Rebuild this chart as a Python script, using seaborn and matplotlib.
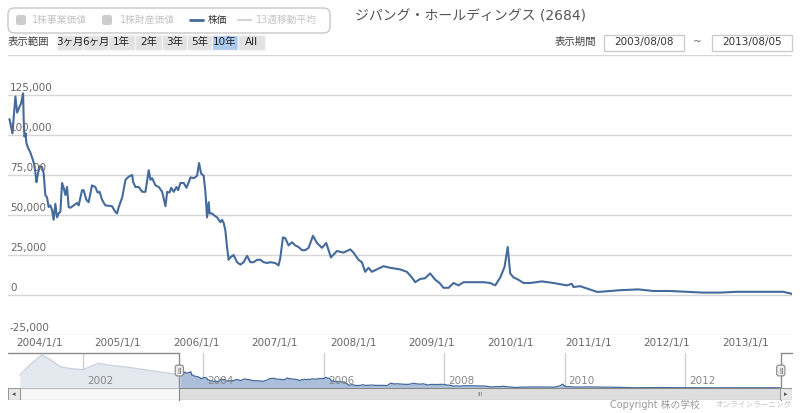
"""
ジパング・ホールディングス (2684) 株価チャート再現
"""
import numpy as np
import pandas as pd
import matplotlib
import matplotlib.pyplot as plt
import matplotlib.dates as mdates
from matplotlib.patches import Rectangle, FancyBboxPatch
from matplotlib.lines import Line2D
from matplotlib.ticker import FuncFormatter
import seaborn as sns

sns.set_theme(style='white')
plt.rcParams['font.family'] = ['DejaVu Sans', 'Noto Sans CJK JP']
plt.rcParams['axes.unicode_minus'] = False

# ── データ (年の小数表記 / 株価) ─────────────────────────────
price_years = [
    2003.618, 2003.656, 2003.694, 2003.716, 2003.767, 2003.792, 2003.800, 2003.809, 2003.825, 2003.834,
    2003.851, 2003.885, 2003.920, 2003.940, 2003.962, 2003.978, 2004.004, 2004.034, 2004.055, 2004.076,
    2004.098, 2004.118, 2004.140, 2004.162, 2004.182, 2004.204, 2004.225, 2004.246, 2004.268, 2004.289,
    2004.310, 2004.331, 2004.353, 2004.373, 2004.395, 2004.437, 2004.480, 2004.501, 2004.544, 2004.564,
    2004.599, 2004.628, 2004.671, 2004.713, 2004.743, 2004.768, 2004.799, 2004.841, 2004.926, 2004.968,
    2004.990, 2005.010, 2005.054, 2005.096, 2005.138, 2005.181, 2005.194, 2005.223, 2005.265, 2005.308,
    2005.350, 2005.392, 2005.414, 2005.436, 2005.478, 2005.520, 2005.563, 2005.605, 2005.627, 2005.656,
    2005.678, 2005.711, 2005.745, 2005.767, 2005.796, 2005.838, 2005.873, 2005.902, 2005.924, 2005.966,
    2006.009, 2006.034, 2006.060, 2006.093, 2006.115, 2006.136, 2006.157, 2006.169, 2006.200, 2006.220,
    2006.264, 2006.306, 2006.327, 2006.348, 2006.369, 2006.391, 2006.411, 2006.433, 2006.475, 2006.518,
    2006.561, 2006.603, 2006.646, 2006.688, 2006.730, 2006.773, 2006.815, 2006.857, 2006.901, 2006.943,
    2007.006, 2007.048, 2007.070, 2007.104, 2007.134, 2007.176, 2007.219, 2007.261, 2007.303, 2007.346,
    2007.389, 2007.431, 2007.487, 2007.538, 2007.601, 2007.656, 2007.716, 2007.792, 2007.876, 2007.962,
    2008.004, 2008.068, 2008.111, 2008.153, 2008.195, 2008.238, 2008.302, 2008.386, 2008.471, 2008.599,
    2008.684, 2008.748, 2008.790, 2008.854, 2008.917, 2008.981, 2009.045, 2009.099, 2009.150, 2009.214,
    2009.278, 2009.341, 2009.405, 2009.512, 2009.660, 2009.745, 2009.809, 2009.873, 2009.927, 2009.968,
    2010.000, 2010.042, 2010.106, 2010.170, 2010.255, 2010.404, 2010.552, 2010.722, 2010.786, 2010.806,
    2010.892, 2011.104, 2011.146, 2011.401, 2011.634, 2011.825, 2012.038, 2012.251, 2012.462, 2012.675,
    2012.888, 2013.099, 2013.312, 2013.482, 2013.592,
]
price_values = [
    110000, 101000, 124000, 114000, 120000, 126000, 109000, 99000, 101000, 95000,
    92500, 89000, 84000, 80000, 70500, 75000, 80500, 80000, 76000, 62500,
    61000, 55000, 56000, 53000, 47000, 57000, 48500, 51000, 52000, 70000,
    67000, 62500, 67500, 55000, 54500, 56000, 57500, 56000, 65500, 65500,
    59500, 58000, 68500, 67500, 64000, 64500, 59500, 56000, 55500, 52000,
    51000, 55000, 61000, 72000, 74000, 75000, 70500, 67500, 67500, 64500,
    64500, 78000, 72000, 73000, 68500, 67500, 64500, 55500, 64500, 64000,
    67000, 64500, 67500, 65500, 70000, 70000, 67000, 70500, 73500, 73000,
    74500, 82500, 76000, 74500, 64500, 48500, 58000, 51000, 51000, 50000,
    48500, 45500, 47000, 45000, 40500, 30000, 22000, 23500, 25000, 20500,
    19000, 20500, 24500, 20500, 20500, 22000, 22000, 20500, 20000, 20500,
    20000, 18500, 23000, 36000, 35500, 31000, 33000, 31000, 30000, 28000,
    28000, 29500, 37000, 32500, 29500, 32500, 23500, 27500, 26500, 28500,
    26500, 22000, 20500, 14500, 17000, 14500, 16000, 18000, 17000, 16000,
    14500, 11000, 8000, 10000, 10500, 13500, 9500, 7500, 4500, 4500,
    7500, 6000, 8000, 8000, 8000, 7500, 6000, 11000, 17500, 30000,
    13500, 11000, 9500, 7500, 7500, 8500, 7500, 6000, 7000, 5000,
    5500, 2000, 2000, 3000, 3500, 2500, 2500, 2000, 1500, 1500,
    2000, 2000, 2000, 2000, 700,
]

# ナビゲーター用 (表示期間より前の株価, 週足の概略)
nav_years = [2000.95, 2001.12, 2001.22, 2001.32, 2001.45, 2001.62, 2001.78,
             2002.00, 2002.25, 2002.45, 2002.78, 2003.11, 2003.36, 2003.56]
nav_values = [100000, 180000, 220000, 255000, 220000, 165000, 150000,
              142000, 190000, 175000, 158000, 135000, 118000, 106000]

y_ticks = [-25000, 0, 25000, 50000, 75000, 100000, 125000, 150000]
nav_tick_years = [2002, 2004, 2006, 2008, 2010, 2012]

range_start = '2003/08/08'
range_end = '2013/08/05'
nav_left, nav_right = 2000.754, 2013.778

legend_items = ['1株事業価値', '1株財産価値', '株価', '13週移動平均']
buttons = ['3ヶ月', '6ヶ月', '1年', '2年', '3年', '5年', '10年', 'All']
selected_button = '10年'
title = 'ジパング・ホールディングス (2684)'


def to_date(y):
    y0 = int(y)
    return pd.Timestamp(y0, 1, 1) + pd.Timedelta(days=(y - y0) * 365.25)


df = pd.DataFrame({'date': [to_date(y) for y in price_years], 'price': price_values})
df_early = pd.DataFrame({'date': [to_date(y) for y in nav_years], 'price': nav_values})
t0 = pd.Timestamp(range_start.replace('/', '-'))
t1 = pd.Timestamp(range_end.replace('/', '-'))
n0, n1 = mdates.date2num(t0), mdates.date2num(t1)
nl, nr = mdates.date2num(to_date(nav_left)), mdates.date2num(to_date(nav_right))

# ── レイアウト (ピクセル → 図座標) ─────────────────────────
W, H = 800, 413
def fx(x): return x / W
def fy(y): return 1 - y / H

fig = plt.figure(figsize=(8, 4.13), dpi=100)
fig.patch.set_facecolor('white')

line_color = '#456a9c'
grid_color = '#d6d6d6'

# ── メインチャート ─────────────────────────────────────────
ax = fig.add_axes([fx(8), fy(335), fx(784), 280 / H])
sns.lineplot(data=df, x='date', y='price', ax=ax, color=line_color,
             linewidth=1.5, legend=False)
ax.set_xlim(t0, t1)
ax.set_ylim(-25000, 150000)
ax.set_yticks(y_ticks)
ax.tick_params(axis='y', length=0, labelleft=False)
ax.grid(True, axis='y', color=grid_color, linewidth=1)
ax.grid(False, axis='x')
for s in ax.spines.values():
    s.set_visible(False)
ax.set_xlabel('')
ax.set_ylabel('')

ax.xaxis.set_major_locator(mdates.YearLocator())
ax.xaxis.set_major_formatter(FuncFormatter(lambda v, p: f'{mdates.num2date(v).year}/1/1'))
ax.tick_params(axis='x', length=0, pad=2, labelsize=7.5, labelcolor='#666666')

ytrans = ax.get_yaxis_transform()
for v in y_ticks[:-1]:
    ax.annotate(f'{v:,}', xy=(0, v), xycoords=ytrans, xytext=(2, 2),
                textcoords='offset pixels', fontsize=7.5, color='#666666',
                ha='left', va='bottom')

# ── ナビゲーター ───────────────────────────────────────────
nav = fig.add_axes([fx(8), fy(388), fx(784), 35 / H])
nav.set_xlim(nl, nr)
nav.set_ylim(0, 270000)
left_part = pd.concat([df_early, df.iloc[[0]]]).reset_index(drop=True)
nav.fill_between(left_part['date'], left_part['price'], color='#e4e9f0', linewidth=0)
sns.lineplot(data=left_part, x='date', y='price', ax=nav, color='#c9d3df',
             linewidth=1, legend=False)
nav.fill_between(df['date'], df['price'], color='#abbfda', linewidth=0)
sns.lineplot(data=df, x='date', y='price', ax=nav, color=line_color,
             linewidth=0.9, legend=False)
nav.set_xlim(nl, nr)
nav.set_xticks([])
nav.set_yticks([])
nav.set_xlabel('')
nav.set_ylabel('')
for s in nav.spines.values():
    s.set_visible(False)

nx = nav.get_xaxis_transform()
for yr in nav_tick_years:
    d = mdates.date2num(pd.Timestamp(yr, 1, 1))
    nav.axvline(d, color='#cfcfcf', linewidth=1, zorder=0)
    nav.annotate(str(yr), xy=(d, 0), xycoords=nx, xytext=(4, 2),
                 textcoords='offset pixels', fontsize=7.5, color='#888888',
                 ha='left', va='bottom')

# ── スクロールバー ─────────────────────────────────────────
sb = fig.add_axes([fx(8), fy(400), fx(784), 12 / H])
sb.set_xlim(nl, nr)
sb.set_ylim(0, 1)
sb.axis('off')
sx = sb.get_xaxis_transform()
sb.add_patch(Rectangle((0, 0), 1, 1, transform=sb.transAxes, fc='#f7f7f7',
                       ec='#bbbbbb', lw=0.8))
sb.add_patch(Rectangle((n0, 0), n1 - n0, 1, transform=sx, fc='#dedede', ec='#888888', lw=0.8))
bw = 12 / 784
sb.add_patch(Rectangle((0, 0), bw, 1, transform=sb.transAxes, fc='#e8e8e8', ec='#999999', lw=0.8))
sb.add_patch(Rectangle((1 - bw, 0), bw, 1, transform=sb.transAxes, fc='#e8e8e8', ec='#999999', lw=0.8))
sb.text(bw / 2, 0.5, '◂', transform=sb.transAxes, ha='center', va='center', fontsize=5, color='#555555')
sb.text(1 - bw / 2, 0.5, '▸', transform=sb.transAxes, ha='center', va='center', fontsize=5, color='#555555')
sb.text((n0 + n1) / 2, 0.5, 'III', transform=sx, ha='center', va='center', fontsize=4.5, color='#777777')

# ナビゲーターの枠線とハンドル
bot = -12 / 35
outline = [([nl, n0], [1, 1]), ([n0, n0], [1, bot]),
           ([n1, n1], [1, bot]), ([n1, nr], [1, 1])]
for xs, ys in outline:
    nav.add_line(Line2D(xs, ys, transform=nx, color='#8a8a8a', lw=1, clip_on=False))
for d in (n0, n1):
    nav.text(d, 0.5, 'ǁ', transform=nx, ha='center', va='center', fontsize=5,
             color='#666666', zorder=5,
             bbox=dict(boxstyle='round,pad=0.35', fc='#ebebeb', ec='#888888', lw=0.8))

# ── ヘッダー: 凡例 ─────────────────────────────────────────
fig.patches.append(FancyBboxPatch((fx(8), fy(33)), fx(322), 25 / H,
                                  boxstyle='round,pad=0,rounding_size=0.008',
                                  mutation_aspect=W / H, transform=fig.transFigure,
                                  fc='white', ec='#c8c8c8', lw=1))
ly = fy(20)
for x0 in (16, 102):
    fig.patches.append(FancyBboxPatch((fx(x0), fy(25)), fx(10), 10 / H,
                                      boxstyle='round,pad=0,rounding_size=0.003',
                                      mutation_aspect=W / H, transform=fig.transFigure,
                                      fc='#cccccc', ec='none'))
fig.lines.append(Line2D([fx(190), fx(203)], [ly, ly], transform=fig.transFigure,
                        color=line_color, lw=2))
fig.lines.append(Line2D([fx(238), fx(251)], [ly, ly], transform=fig.transFigure,
                        color='#d4d4d4', lw=1.5))
leg_x = [32, 120, 208, 256]
leg_c = ['#c4c4c4', '#c4c4c4', '#333333', '#c4c4c4']
for x0, lbl, c in zip(leg_x, legend_items, leg_c):
    fig.text(fx(x0), ly, lbl, fontsize=7, color=c, ha='left', va='center')

fig.text(fx(355), fy(16), title, fontsize=10, color='#555555', ha='left', va='center')

# ── ヘッダー: 表示範囲ボタン ───────────────────────────────
ry = fy(42)
fig.text(fx(8), ry, '表示範囲', fontsize=7.5, color='#444444', ha='left', va='center')
edges = [57, 83, 108, 135, 162, 187, 212, 238, 265]
for i, lbl in enumerate(buttons):
    fc = '#accaee' if lbl == selected_button else '#e2e2e2'
    fig.patches.append(Rectangle((fx(edges[i]), fy(50)), fx(edges[i + 1] - edges[i]), 15 / H,
                                 transform=fig.transFigure, fc=fc, ec='#f4f4f4', lw=1))
    fig.text(fx((edges[i] + edges[i + 1]) / 2), ry, lbl, fontsize=7.5, color='#222222',
             ha='center', va='center')

fig.text(fx(575), ry, '表示期間', fontsize=7.5, color='#444444', ha='center', va='center')
for (a, b), lbl in zip([(604, 684), (712, 792)], [range_start, range_end]):
    fig.patches.append(Rectangle((fx(a), fy(51)), fx(b - a), 16 / H,
                                 transform=fig.transFigure, fc='white', ec='#cccccc', lw=1))
    fig.text(fx((a + b) / 2), ry, lbl, fontsize=7.5, color='#333333', ha='center', va='center')
fig.text(fx(697), ry, '~', fontsize=7.5, color='#666666', ha='center', va='center')

fig.text(fx(700), fy(405), 'Copyright 株の学校', fontsize=7, color='#999999',
         ha='right', va='center')
fig.text(fx(792), fy(405), 'オンラインラーニング', fontsize=5.5, color='#c0c0c0',
         ha='right', va='center')

plt.savefig('out.png', dpi=100)
plt.close()
